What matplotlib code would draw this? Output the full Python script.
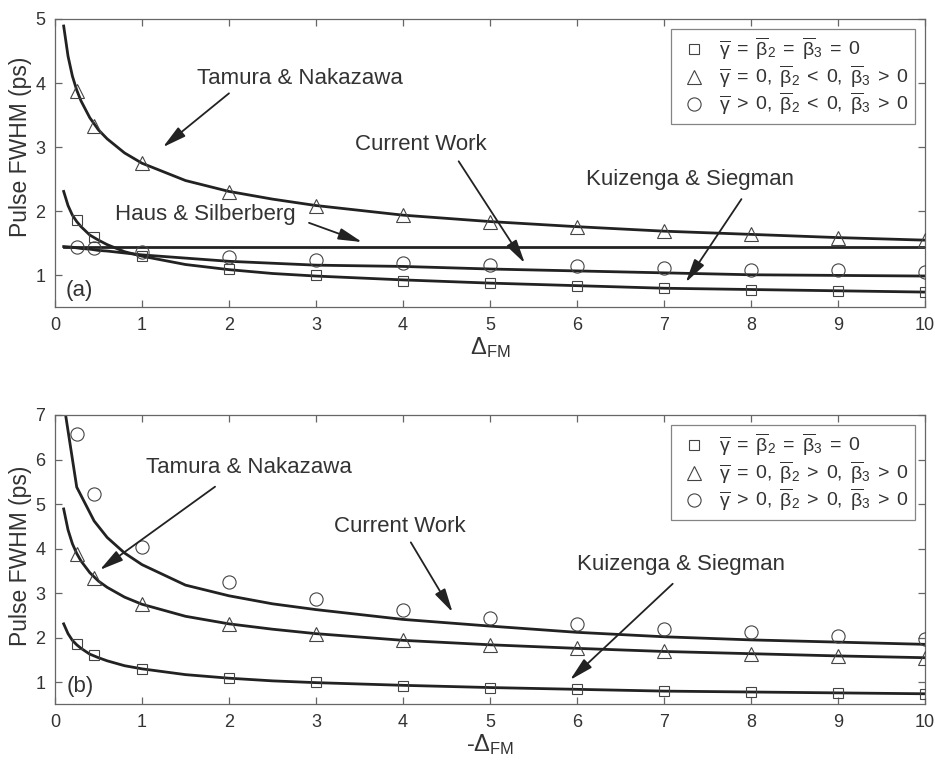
import matplotlib
matplotlib.use("Agg")
import matplotlib.pyplot as plt
from matplotlib.lines import Line2D

plt.rcParams['font.family'] = ['Liberation Sans', 'DejaVu Sans']
plt.rcParams['mathtext.fontset'] = 'custom'
plt.rcParams['mathtext.rm'] = 'Liberation Sans'
plt.rcParams['mathtext.it'] = 'Liberation Sans:italic'
plt.rcParams['mathtext.bf'] = 'Liberation Sans:bold'

# ---- simulation points (markers) ----
delta_pts = [0.25, 0.45, 1, 2, 3, 4, 5, 6, 7, 8, 9, 10]
fwhm_zero = [1.86, 1.60, 1.30, 1.10, 1.00, 0.92, 0.88, 0.84, 0.81, 0.78, 0.76, 0.74]
fwhm_disp = [3.87, 3.33, 2.75, 2.30, 2.09, 1.95, 1.84, 1.76, 1.70, 1.64, 1.59, 1.55]
fwhm_nl_a = [1.44, 1.42, 1.37, 1.29, 1.24, 1.20, 1.16, 1.14, 1.12, 1.09, 1.08, 1.06]
fwhm_nl_b = [6.57, 5.22, 4.04, 3.24, 2.86, 2.62, 2.44, 2.30, 2.20, 2.12, 2.04, 1.98]

# ---- analytic curves ----
delta_curve = [0.1, 0.15, 0.2, 0.25, 0.3, 0.4, 0.5, 0.6, 0.8, 1, 1.5, 2, 2.5,
               3, 4, 5, 6, 7, 8, 9, 10]
tamura = [4.89, 4.42, 4.11, 3.89, 3.72, 3.46, 3.27, 3.13, 2.91, 2.75, 2.48,
          2.31, 2.19, 2.09, 1.94, 1.84, 1.76, 1.69, 1.64, 1.59, 1.55]
kuizenga = [2.31, 2.09, 1.94, 1.84, 1.76, 1.63, 1.55, 1.48, 1.37, 1.30, 1.17,
            1.09, 1.03, 0.99, 0.93, 0.88, 0.84, 0.80, 0.78, 0.76, 0.74]
current_a = [1.45, 1.445, 1.44, 1.43, 1.42, 1.41, 1.39, 1.38, 1.35, 1.32, 1.27,
             1.22, 1.19, 1.16, 1.14, 1.10, 1.07, 1.04, 1.01, 1.00, 0.99]
haus_x = [0.1, 10]
haus = [1.45, 1.45]
delta_curve_b = [0.1, 0.25, 0.45, 0.6, 0.8, 1, 1.5, 2, 2.5, 3, 4, 5, 6, 7, 8,
                 9, 10]
current_b = [7.28, 5.38, 4.62, 4.25, 3.90, 3.64, 3.18, 2.94, 2.76, 2.63, 2.41,
             2.26, 2.12, 2.02, 1.95, 1.90, 1.85]

G = r'\overline{\mathrm{\gamma}}'
B2 = r'\overline{\mathrm{\beta}}_2'
B3 = r'\overline{\mathrm{\beta}}_3'
EQ = r'\;{=}\;'
LT = r'\;{<}\;'
GT = r'\;{>}\;'
CM = r',\;'
legend_a = ['$' + G + EQ + B2 + EQ + B3 + EQ + '0$',
            '$' + G + EQ + '0' + CM + B2 + LT + '0' + CM + B3 + GT + '0$',
            '$' + G + GT + '0' + CM + B2 + LT + '0' + CM + B3 + GT + '0$']
legend_b = ['$' + G + EQ + B2 + EQ + B3 + EQ + '0$',
            '$' + G + EQ + '0' + CM + B2 + GT + '0' + CM + B3 + GT + '0$',
            '$' + G + GT + '0' + CM + B2 + GT + '0' + CM + B3 + GT + '0$']

LINE = '#222222'
MEDGE = '#444444'
SPINE = '#666666'
TXT = '#333333'

fig = plt.figure(figsize=(9.35, 7.62), dpi=100)
ax_a = fig.add_axes([0.0588, 0.5965, 0.9305, 0.3786])
ax_b = fig.add_axes([0.0588, 0.0755, 0.9305, 0.3799])


def style_axes(ax, ylim, yticks, label_y):
    ax.set_xlim(0, 10)
    ax.set_ylim(*ylim)
    ax.set_xticks(range(0, 11))
    ax.set_yticks(yticks)
    ax.tick_params(direction='in', top=True, right=True, length=5, width=0.9,
                   color=SPINE, labelsize=13, labelcolor=TXT, pad=7)
    for sp in ax.spines.values():
        sp.set_color(SPINE)
        sp.set_linewidth(0.9)
    ax.set_ylabel('Pulse FWHM (ps)', fontsize=16.5, color=TXT)
    ax.yaxis.set_label_coords(-0.026, label_y)


def draw_points(ax, nl_vals):
    kw = dict(linestyle='none', markerfacecolor='none', markeredgecolor=MEDGE,
              markeredgewidth=0.8, zorder=3)
    ax.plot(delta_pts, fwhm_zero, marker='s', markersize=7, **kw)
    ax.plot(delta_pts, fwhm_disp, marker='^', markersize=10, **kw)
    ax.plot(delta_pts, nl_vals, marker='o', markersize=9.5, **kw)


def add_legend(ax, labels):
    kw = dict(linestyle='none', markerfacecolor='none', markeredgecolor=MEDGE,
              markeredgewidth=0.8)
    handles = [Line2D([], [], marker='s', markersize=7, **kw),
               Line2D([], [], marker='^', markersize=10, **kw),
               Line2D([], [], marker='o', markersize=9.5, **kw)]
    leg = ax.legend(handles, labels, loc='upper right', fontsize=14,
                    frameon=True, fancybox=False, borderaxespad=0.5,
                    handletextpad=0.5, labelspacing=0.05, borderpad=0.35,
                    handlelength=1.6)
    leg.get_frame().set_edgecolor(SPINE)
    leg.get_frame().set_linewidth(0.9)
    for t in leg.get_texts():
        t.set_color(TXT)


def arrow(ax, start, end):
    ax.annotate('', xy=end, xytext=start,
                arrowprops=dict(arrowstyle='-|>,head_length=0.9,head_width=0.22',
                                mutation_scale=16, lw=1.3, color=LINE,
                                shrinkA=0, shrinkB=0))


def label(ax, x, y, s):
    ax.text(x, y, s, fontsize=16, color=TXT, ha='center', va='center')


# ---- panel (a) ----
style_axes(ax_a, (0.5, 5), [1, 2, 3, 4, 5], 0.557)
ax_a.plot(delta_curve, tamura, color=LINE, lw=2.0)
ax_a.plot(delta_curve, kuizenga, color=LINE, lw=2.0)
ax_a.plot(delta_curve, current_a, color=LINE, lw=2.0)
ax_a.plot(haus_x, haus, color=LINE, lw=2.0)
draw_points(ax_a, fwhm_nl_a)
add_legend(ax_a, legend_a)
ax_a.set_xlabel(r'$\Delta_{\mathrm{FM}}$', fontsize=17, color=TXT, labelpad=1)

label(ax_a, 2.82, 4.07, 'Tamura & Nakazawa')
arrow(ax_a, (2.00, 3.84), (1.24, 3.00))
label(ax_a, 4.21, 3.04, 'Current Work')
arrow(ax_a, (4.64, 2.78), (5.40, 1.19))
label(ax_a, 1.73, 1.95, 'Haus & Silberberg')
arrow(ax_a, (2.92, 1.82), (3.53, 1.52))
label(ax_a, 7.30, 2.49, 'Kuizenga & Siegman')
arrow(ax_a, (7.89, 2.19), (7.25, 0.89))
ax_a.text(0.12, 0.76, '(a)', fontsize=16, color=TXT, ha='left', va='center')

# ---- panel (b) ----
style_axes(ax_b, (0.5, 7), [1, 2, 3, 4, 5, 6, 7], 0.514)
ax_b.plot(delta_curve, tamura, color=LINE, lw=2.0)
ax_b.plot(delta_curve, kuizenga, color=LINE, lw=2.0)
ax_b.plot(delta_curve_b, current_b, color=LINE, lw=2.0)
draw_points(ax_b, fwhm_nl_b)
add_legend(ax_b, legend_b)
ax_b.set_xlabel(r'-$\Delta_{\mathrm{FM}}$', fontsize=17, color=TXT, labelpad=1)

label(ax_b, 2.23, 5.82, 'Tamura & Nakazawa')
arrow(ax_b, (1.84, 5.39), (0.515, 3.52))
label(ax_b, 3.96, 4.49, 'Current Work')
arrow(ax_b, (4.09, 4.14), (4.57, 2.57))
label(ax_b, 7.20, 3.65, 'Kuizenga & Siegman')
arrow(ax_b, (7.10, 3.21), (5.92, 1.05))
ax_b.text(0.13, 0.90, '(b)', fontsize=16, color=TXT, ha='left', va='center')

fig.savefig('out.png', dpi=100)
